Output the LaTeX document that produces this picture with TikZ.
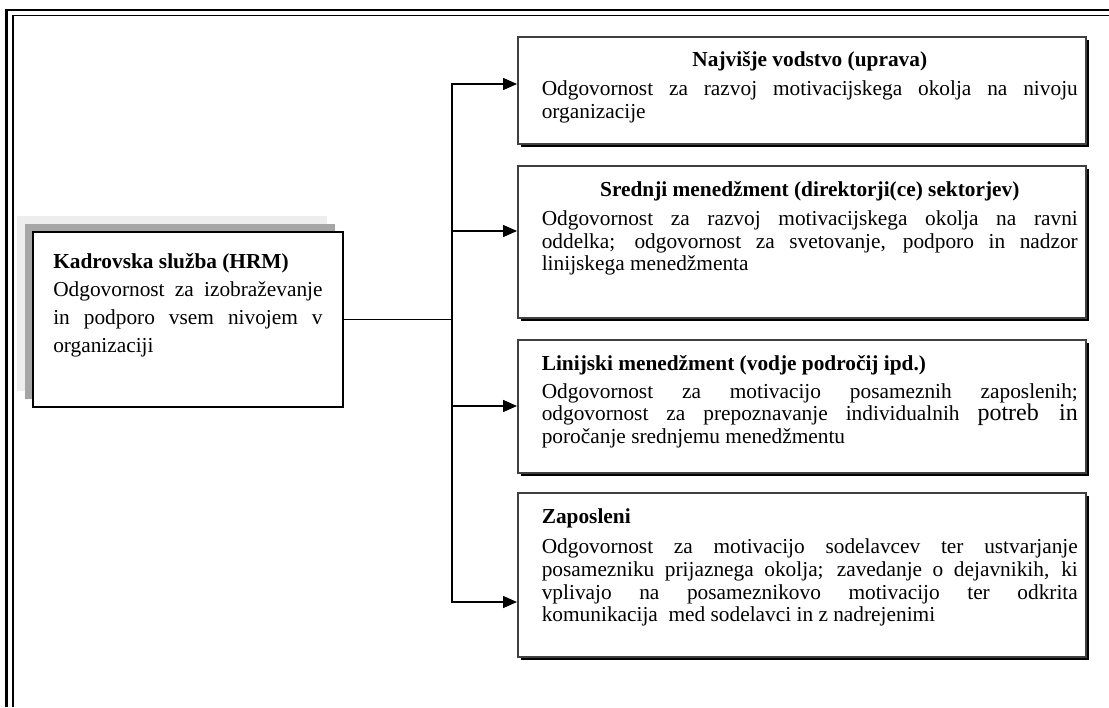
\documentclass[tikz,border=0pt]{standalone}
\usepackage{fontspec}
\setmainfont{Liberation Serif}
\usetikzlibrary{positioning, arrows.meta, shadows}
\setlength{\parindent}{0pt}
\newcommand{\tstrut}{\rule{0pt}{12pt}}
\newcommand{\lvlfont}{\fontsize{16pt}{17pt}\selectfont}
\newcommand{\hrmfont}{\fontsize{16pt}{21pt}\selectfont}

\begin{document}
\begin{tikzpicture}[x=0.75pt, y=-0.75pt,
  lvlbox/.style={draw=black!75, line width=1.4pt, fill=white, anchor=north west,
    minimum width=426pt, inner sep=0pt,
    drop shadow={shadow xshift=2.6pt, shadow yshift=-2.6pt, fill=black, opacity=1}},
  hrmbox/.style={draw=black, line width=1.5pt, fill=white, anchor=north west,
    minimum width=232.5pt, minimum height=131.25pt, inner sep=0pt,
    drop shadow={shadow xshift=-12pt, shadow yshift=12pt, fill=black!7, opacity=1},
    drop shadow={shadow xshift=-6pt, shadow yshift=6pt, fill=black!35, opacity=1}},
  lvltxt/.style={anchor=north west, inner sep=0pt, text width=402pt, align=justify,
    font=\lvlfont},
  link/.style={line width=1.1pt, line cap=rect},
  arr/.style={line width=1.1pt, -{Triangle[length=10.5pt, width=9pt]}},
]
\useasboundingbox (0,0) rectangle (1109,707);

% frame
\draw[line width=1.8pt] (6.5,707) -- (6.5,10) -- (1109,10);
\draw[line width=1.2pt] (12.7,707) -- (12.7,15.5) -- (1109,15.5);

% HRM
\node[hrmbox] (hrm) at (32,231) {};
\node[anchor=north west, inner sep=0pt, text width=202pt, align=justify,
  font=\hrmfont, below right=16pt and 15.75pt of hrm.north west] (hrm-txt)
  {\tstrut\textbf{Kadrovska služba (HRM)}\par
   Odgovornost za izobraževanje\linebreak
   in podporo vsem nivojem v\linebreak
   organizaciji\par};

% levels
\node[lvlbox, minimum height=80.25pt] (topmgmt) at (517,36) {};
\node[lvltxt, below right=10.5pt and 18.4pt of topmgmt.north west] (topmgmt-txt)
  {\centerline{\tstrut\textbf{Najvišje vodstvo (uprava)}}\vspace{5pt}
   Odgovornost za razvoj motivacijskega okolja na nivoju\linebreak
   organizacije\par};

\node[lvlbox, minimum height=114pt] (midmgmt) at (517,165) {};
\node[lvltxt, below right=11.25pt and 18.4pt of midmgmt.north west] (midmgmt-txt)
  {\centerline{\tstrut\textbf{Srednji menedžment (direktorji(ce) sektorjev)}}\vspace{5pt}
   Odgovornost za razvoj motivacijskega okolja na ravni\linebreak
   oddelka; odgovornost za svetovanje, podporo in nadzor\linebreak
   linijskega menedžmenta\par};

\node[lvlbox, minimum height=99.75pt] (linemgmt) at (517,339) {};
\node[lvltxt, below right=11.25pt and 18.4pt of linemgmt.north west] (linemgmt-txt)
  {\tstrut\textbf{Linijski menedžment (vodje področij ipd.)}\par\vspace{4pt}
   Odgovornost za motivacijo posameznih zaposlenih;\linebreak
   odgovornost za prepoznavanje individualnih {\fontsize{18pt}{17pt}\selectfont potreb in}\linebreak
   poročanje srednjemu menedžmentu\par};

\node[lvlbox, minimum height=123pt] (staff) at (517,492) {};
\node[lvltxt, below right=11.25pt and 18.4pt of staff.north west] (staff-txt)
  {\tstrut\textbf{Zaposleni}\par\vspace{6pt}
   Odgovornost za motivacijo sodelavcev ter ustvarjanje\linebreak
   posamezniku prijaznega okolja; zavedanje o dejavnikih, ki\linebreak
   vplivajo na posameznikovo motivacijo ter odkrita\linebreak
   komunikacija\ \ med sodelavci in z nadrejenimi\par};

% connectors
\coordinate (j1) at (452,84);
\coordinate (j2) at (452,231);
\coordinate (j3) at (452,406);
\coordinate (j4) at (452,602);
\draw[link] (j1) -- (j4);
\draw[link] (hrm.east) -- (hrm.east -| j1);
\foreach \j/\b in {j1/topmgmt, j2/midmgmt, j3/linemgmt, j4/staff}
  \draw[arr] (\j) -- (\j -| \b.west);
\end{tikzpicture}
\end{document}
